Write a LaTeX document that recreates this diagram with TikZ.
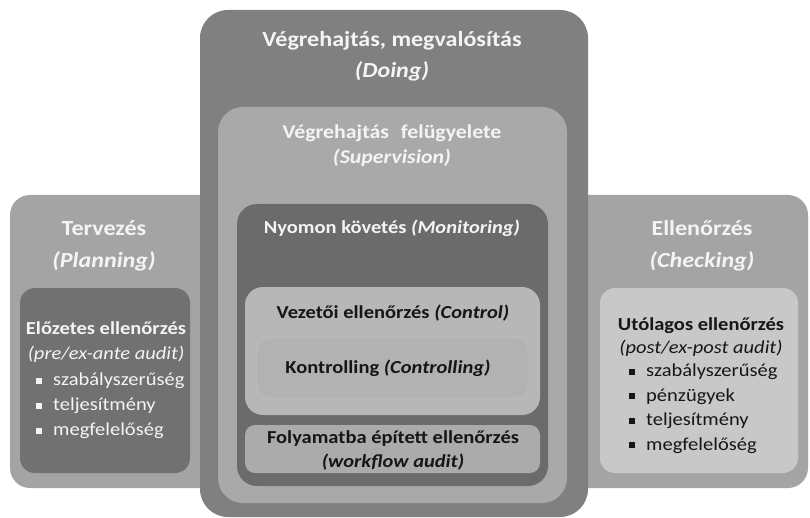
\documentclass[tikz,border=0pt]{standalone}
\usepackage{fontspec}
\setmainfont{Carlito}[FakeStretch=1.12]
\definecolor{panelgray}{HTML}{A4A4A4}
\definecolor{darkbox}{HTML}{717171}
\definecolor{doinggray}{HTML}{808080}
\definecolor{supgray}{HTML}{A9A9A9}
\definecolor{mongray}{HTML}{6B6B6B}
\definecolor{ctrlgray}{HTML}{B7B7B7}
\definecolor{ctrlggray}{HTML}{B2B2B2}
\definecolor{ctrlgedge}{HTML}{BDBDBD}
\definecolor{wfgray}{HTML}{ABABAB}
\definecolor{lightbox}{HTML}{C8C8C8}
\definecolor{lighttext}{HTML}{F4F4F4}
\definecolor{darktext}{HTML}{161616}
\newcommand{\sqb}{\rule[0.22ex]{6pt}{6pt}\hspace{11pt}}
\begin{document}
\begin{tikzpicture}[x=1pt,y=-1pt,
  area/.style={anchor=north west, inner sep=0pt, outer sep=0pt, draw=none},
  title/.style={font=\bfseries, align=center, inner sep=0pt},
  listtext/.style={align=left, anchor=west, inner sep=0pt}
]
\useasboundingbox (0,0) rectangle (810,518);
\fill[white] (0,0) rectangle (810,518);

% side phases
\node[area, fill=panelgray, rounded corners=20pt, minimum width=230pt, minimum height=293pt] (plan) at (10,195) {};
\node[area, fill=panelgray, rounded corners=20pt, minimum width=248pt, minimum height=293pt] (check) at (560,195) {};

% central phase and its nested levels
\node[area, fill=doinggray, rounded corners=28pt, minimum width=388pt, minimum height=507pt] (doing) at (200,10) {};
\node[area, fill=supgray, rounded corners=25pt, minimum width=349pt, minimum height=396pt] (sup) at (218,107) {};
\node[area, fill=mongray, rounded corners=20pt, minimum width=311pt, minimum height=282pt] (mon) at (237,204) {};
\node[area, fill=ctrlgray, rounded corners=18pt, minimum width=295pt, minimum height=128pt] (ctrl) at (245,287) {};
\node[area, fill=ctrlggray, draw=ctrlgedge, line width=0.8pt, rounded corners=12pt, minimum width=271pt, minimum height=60pt] (ctrlg) at (257,338) {};
\node[area, fill=wfgray, rounded corners=10pt, minimum width=295pt, minimum height=48pt] (wf) at (245,425) {};

% inner boxes of the side phases
\node[area, fill=darkbox, rounded corners=15pt, minimum width=170pt, minimum height=185pt] (pre) at (20,288) {};
\node[area, fill=lightbox, rounded corners=15pt, minimum width=198pt, minimum height=185pt] (post) at (600,288) {};

% titles
\node[title, text=lighttext, font=\bfseries\fontsize{21.5}{31}\selectfont] (doingT) at (392,56)
  {Végrehajtás, megvalósítás\\\textit{(Doing)}};
\node[title, text=lighttext, font=\bfseries\fontsize{19.5}{25}\selectfont] (supT) at (392,146)
  {Végrehajtás\hspace{0.35em} felügyelete\\\textit{(Supervision)}};
\node[title, text=lighttext, font=\bfseries\fontsize{18.3}{20}\selectfont] (monT) at (392,228)
  {Nyomon követés \textit{(Monitoring)}};
\node[title, text=darktext, font=\bfseries\fontsize{18.3}{20}\selectfont] (ctrlT) at (393,313)
  {Vezetői ellenőrzés \textit{(Control)}};
\node[title, text=darktext, font=\bfseries\fontsize{18.3}{20}\selectfont] (ctrlgT) at (388,368)
  {Kontrolling \textit{(Controlling)}};
\node[title, text=darktext, font=\bfseries\fontsize{18.3}{24}\selectfont] (wfT) at (393,450)
  {Folyamatba épített ellenőrzés\\\textit{(workflow audit)}};
\node[title, text=lighttext, font=\bfseries\fontsize{21.5}{32}\selectfont] (planT) at (104,246)
  {Tervezés\\\textit{(Planning)}};
\node[title, text=lighttext, font=\bfseries\fontsize{21.5}{32}\selectfont] (checkT) at (702,246)
  {Ellenőrzés\\\textit{(Checking)}};

% ex-ante audit
\node[title, text=lighttext, font=\fontsize{18.3}{25}\selectfont] (preT) at (106,342)
  {\textbf{Előzetes ellenőrzés}\\\textit{(pre/ex-ante audit)}};
\node[listtext, text=lighttext, font=\fontsize{18.3}{25}\selectfont] (preL) at (36,406)
  {\sqb szabályszerűség\\\sqb teljesítmény\\\sqb megfelelőség};

% ex-post audit
\node[title, text=darktext, font=\fontsize{18.3}{23}\selectfont] (postT) at (701,337)
  {\textbf{Utólagos ellenőrzés}\\\textit{(post/ex-post audit)}};
\node[listtext, text=darktext, font=\fontsize{18.3}{24.5}\selectfont] (postL) at (629,408.5)
  {\sqb szabályszerűség\\\sqb pénzügyek\\\sqb teljesítmény\\\sqb megfelelőség};
\end{tikzpicture}
\end{document}
